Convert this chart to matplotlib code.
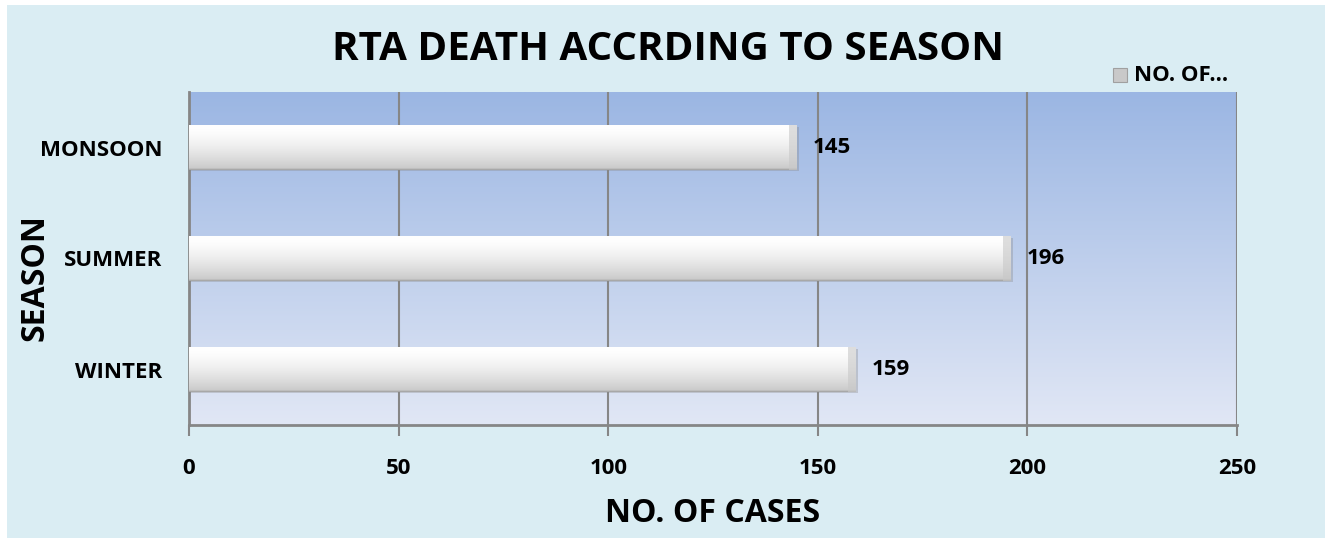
import matplotlib
matplotlib.use("Agg")
import matplotlib.pyplot as plt
import numpy as np
from matplotlib.patches import Rectangle

categories = ["WINTER", "SUMMER", "MONSOON"]
values = [159, 196, 145]
xticks = [0, 50, 100, 150, 200, 250]
title = "RTA DEATH ACCRDING TO SEASON"
xlabel = "NO. OF CASES"
ylabel = "SEASON"
legend_label = "NO. OF..."

FONT = "Open Sans"
W, H = 1331, 538
fig = plt.figure(figsize=(W/100, H/100), dpi=100)
fig.patch.set_facecolor("white")
# outer chart area background
fig.patches.append(Rectangle((7/W, 0), (1325-7)/W, (H-5)/H, transform=fig.transFigure,
                             facecolor="#DAEDF3", edgecolor="none", zorder=-10))

ax = fig.add_axes([189/W, 1-425/H, (1237-189)/W, (425-92)/H])
ax.set_facecolor("none")

# background gradient of plot area
top = np.array([0x9B, 0xB6, 0xE3]) / 255
bot = np.array([0xE1, 0xE7, 0xF5]) / 255
t = np.linspace(0, 1, 256)[:, None]
grad = top[None, :] * (1 - t) + bot[None, :] * t
ax.imshow(grad[:, None, :].repeat(2, axis=1), extent=[0, 1, 0, 1], transform=ax.transAxes,
          aspect="auto", zorder=0, interpolation="bilinear")

ypos = np.arange(len(categories))
bh = 0.4
bars = ax.barh(ypos, values, height=bh, color="white", edgecolor="none", zorder=3)

# bar shading gradient
s = np.linspace(0, 1, 256)
shade = np.clip(1.0 - 0.22 * s**1.6, 0, 1)
shade[-12:] = np.linspace(shade[-13], 0.62, 12)
bar_grad = np.stack([shade, shade, shade], axis=1)[:, None, :].repeat(2, axis=1)
for b in bars:
    x0, y0, w, h = b.get_x(), b.get_y(), b.get_width(), b.get_height()
    # shadow
    ax.add_patch(Rectangle((x0, y0 - 0.012), w + 0.6, h, facecolor="#8a8a8a", alpha=0.35,
                           edgecolor="none", zorder=2))
    im = ax.imshow(bar_grad, extent=[x0, x0 + w, y0, y0 + h], aspect="auto", zorder=4,
                   interpolation="bilinear", origin="upper")
    im.set_clip_path(b)
    # end bevel
    ax.add_patch(Rectangle((x0 + w - 1.8, y0), 1.8, h, facecolor="#c8c8c8", alpha=0.6,
                           edgecolor="none", zorder=5))
    ax.text(x0 + w + 3.8, y0 + h / 2, str(int(w)), va="center", ha="left",
            fontsize=16, fontweight="bold", family=FONT, zorder=6)

ax.set_xlim(0, 250)
ax.set_ylim(-0.5, len(categories) - 0.5)
ax.set_xticks(xticks)
ax.set_xticklabels([str(v) for v in xticks], fontsize=16, fontweight="bold", family=FONT)
ax.set_yticks(ypos)
ax.set_yticklabels(categories, fontsize=16, fontweight="bold", family=FONT)
ax.tick_params(axis="y", length=0, pad=19)
ax.tick_params(axis="x", length=8, width=1.5, color="#868686", pad=16)
ax.grid(axis="x", color="#868686", linewidth=1.5, zorder=1)
ax.set_axisbelow(True)
for sp in ["top", "right"]:
    ax.spines[sp].set_visible(False)
for sp in ["left", "bottom"]:
    ax.spines[sp].set_color("#868686")
    ax.spines[sp].set_linewidth(2)

ax.set_xlabel(xlabel, fontsize=23, fontweight="bold", family=FONT, va="center")
ax.set_ylabel(ylabel, fontsize=23, fontweight="bold", family=FONT, va="center")
ax.yaxis.set_label_coords(-(189-35) / (1237-189), (425-278)/(425-92))
ax.xaxis.set_label_coords((713-189)/(1237-189), -(514-425)/(425-92))

fig.text(668/W, 1-50/H, title, ha="center", va="center", fontsize=29, fontweight="bold", family=FONT)

# legend
lx, ly = 1113, 75
fig.patches.append(Rectangle(((lx)/W, 1-(ly+7)/H), 14/W, 14/H, transform=fig.transFigure,
                             facecolor="#c9c9c9", edgecolor="#a0a0a0", linewidth=0.8, zorder=3))
fig.text((lx+21)/W, 1-ly/H, legend_label, ha="left", va="center", fontsize=16,
         fontweight="bold", family=FONT)

fig.savefig("out.png", dpi=100)
